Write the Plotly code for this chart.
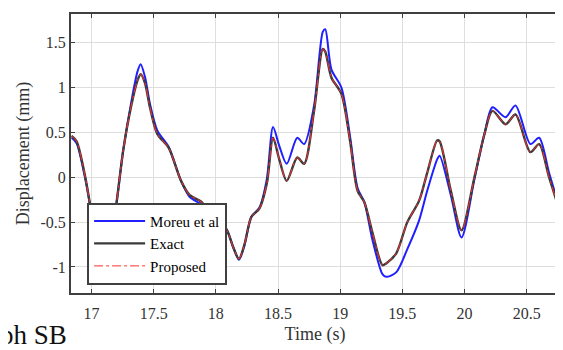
import plotly.graph_objects as go

time_s = [16.84, 16.88, 16.95, 17.00, 17.05, 17.10, 17.15, 17.19, 17.255, 17.32, 17.37, 17.395,
          17.43, 17.47, 17.53, 17.62, 17.72, 17.79, 17.88, 17.95, 18.03, 18.085, 18.14, 18.186,
          18.23, 18.286, 18.35, 18.41, 18.46, 18.51, 18.57, 18.655, 18.71, 18.79, 18.86, 18.88,
          18.93, 19.01, 19.08, 19.14, 19.195, 19.26, 19.34, 19.37, 19.45, 19.54, 19.635, 19.70,
          19.78, 19.80, 19.89, 19.976, 20.08, 20.16, 20.225, 20.33, 20.41, 20.53, 20.60, 20.68, 20.76]

exact = [0.46, 0.40, 0.00, -0.40, -0.75, -0.85, -0.70, -0.40, 0.30, 0.80, 1.08, 1.15,
         1.05, 0.78, 0.48, 0.33, -0.04, -0.20, -0.27, -0.40, -0.52, -0.58, -0.78, -0.91,
         -0.75, -0.44, -0.35, -0.07, 0.44, 0.20, -0.04, 0.22, 0.15, 0.74, 1.43, 1.40,
         1.11, 0.93, 0.40, -0.15, -0.28, -0.62, -0.98, -0.96, -0.85, -0.50, -0.26, 0.05,
         0.41, 0.40, -0.15, -0.59, 0.00, 0.48, 0.74, 0.59, 0.70, 0.28, 0.37, 0.00, -0.35]

moreu = [0.44, 0.38, -0.02, -0.40, -0.75, -0.85, -0.70, -0.40, 0.30, 0.84, 1.18, 1.26,
         1.12, 0.82, 0.52, 0.34, -0.04, -0.22, -0.30, -0.42, -0.52, -0.58, -0.78, -0.92,
         -0.76, -0.44, -0.34, -0.02, 0.56, 0.35, 0.15, 0.44, 0.37, 0.80, 1.62, 1.65,
         1.20, 1.00, 0.45, -0.12, -0.28, -0.70, -1.08, -1.11, -1.06, -0.80, -0.48, -0.15,
         0.20, 0.24, -0.20, -0.67, -0.02, 0.48, 0.78, 0.67, 0.80, 0.37, 0.44, 0.05, -0.32]

proposed = [0.46, 0.40, 0.00, -0.40, -0.75, -0.85, -0.70, -0.40, 0.30, 0.80, 1.08, 1.15,
            1.05, 0.78, 0.48, 0.33, -0.04, -0.20, -0.27, -0.40, -0.52, -0.58, -0.78, -0.91,
            -0.75, -0.44, -0.35, -0.07, 0.44, 0.20, -0.04, 0.22, 0.15, 0.74, 1.43, 1.40,
            1.11, 0.93, 0.40, -0.15, -0.28, -0.62, -0.98, -0.96, -0.85, -0.50, -0.26, 0.05,
            0.41, 0.40, -0.15, -0.59, 0.00, 0.48, 0.74, 0.59, 0.70, 0.28, 0.37, 0.00, -0.35]

x_ticks = [17, 17.5, 18, 18.5, 19, 19.5, 20, 20.5]
x_tick_labels = ["17", "17.5", "18", "18.5", "19", "19.5", "20", "20.5"]
y_ticks = [-1, -0.5, 0, 0.5, 1, 1.5]
y_tick_labels = ["-1", "-0.5", "0", "0.5", "1", "1.5"]

serif = "Liberation Serif, Times New Roman, serif"

fig = go.Figure()
fig.add_trace(go.Scatter(x=time_s, y=moreu, mode="lines", name="Moreu et al",
                         line=dict(color="#1f1fff", width=2, shape="spline", smoothing=0.8)))
fig.add_trace(go.Scatter(x=time_s, y=exact, mode="lines", name="Exact",
                         line=dict(color="#3a3a3a", width=2.4, shape="spline", smoothing=0.8)))
fig.add_trace(go.Scatter(x=time_s, y=proposed, mode="lines", name="Proposed",
                         line=dict(color="#ff3030", width=1, dash="dashdot", shape="spline", smoothing=0.8)))

fig.update_layout(
    width=555, height=342,
    margin=dict(l=63, r=4, t=6, b=57, autoexpand=False),
    paper_bgcolor="white", plot_bgcolor="white",
    font=dict(family=serif, color="#333333", size=16),
    showlegend=True,
    legend=dict(x=0.033, y=0.03, xanchor="left", yanchor="bottom",
                bgcolor="white", bordercolor="#404040", borderwidth=2,
                font=dict(family=serif, size=15, color="#000000"),
                itemwidth=51, tracegroupgap=0),
    annotations=[dict(text="ph SB", xref="paper", yref="paper", x=-0.15, y=-0.09,
                      xanchor="left", yanchor="top", showarrow=False,
                      font=dict(family=serif, size=27, color="#111111"))],
)
fig.update_xaxes(range=[16.835, 20.76], tickvals=x_ticks, ticktext=x_tick_labels,
                 automargin=False,
                 showgrid=True, gridcolor="#dedede", gridwidth=1,
                 showline=True, linecolor="#404040", linewidth=2, mirror="ticks",
                 ticks="inside", ticklen=4, tickcolor="#404040",
                 tickfont=dict(size=16), zeroline=False, ticklabelstandoff=5,
                 title=dict(text="Time (s)", font=dict(size=18), standoff=6))
fig.update_yaxes(range=[-1.29, 1.82], tickvals=y_ticks, ticktext=y_tick_labels,
                 automargin=False,
                 showgrid=True, gridcolor="#dedede", gridwidth=1,
                 showline=True, linecolor="#404040", linewidth=2, mirror="ticks",
                 ticks="inside", ticklen=4, tickcolor="#404040",
                 tickfont=dict(size=16), zeroline=False,
                 title=dict(text="Displacement (mm)", font=dict(size=18), standoff=6))

fig.write_html("out.html")
